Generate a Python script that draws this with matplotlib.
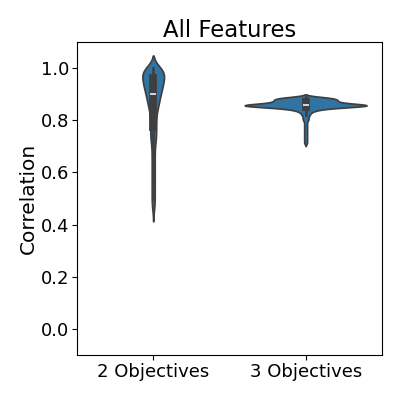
import numpy as np
import pandas as pd
import seaborn as sns
import matplotlib
matplotlib.use('Agg')
import matplotlib.pyplot as plt

categories = ['2 Objectives', '3 Objectives']

# correlation values, with how often each one appears
two_obj_vals = [0.46, 0.47, 0.48, 0.49, 0.50, 0.51, 0.52, 0.53, 0.54, 0.55,
                0.56, 0.57, 0.58, 0.59, 0.60, 0.61, 0.62, 0.63, 0.64, 0.65,
                0.66, 0.67, 0.68, 0.69, 0.70, 0.71, 0.72, 0.73, 0.74, 0.75,
                0.76, 0.77, 0.78, 0.79, 0.80, 0.81, 0.82, 0.83, 0.84, 0.85,
                0.86, 0.87, 0.88, 0.89, 0.90, 0.91, 0.92, 0.93, 0.94, 0.95,
                0.96, 0.97, 0.98, 0.99, 1.00]
two_obj_counts = [1, 1, 1, 1, 1, 1, 1, 1, 1, 1,
                  1, 1, 1, 1, 1, 1, 1, 1, 1, 1,
                  1, 1, 1, 1, 1, 1, 2, 2, 2, 2,
                  2, 2, 2, 2, 2, 2, 2, 2, 3, 3,
                  4, 4, 4, 5, 5, 5, 6, 7, 7, 7,
                  7, 7, 9, 10, 8]

three_obj_vals = [0.710, 0.715, 0.720, 0.725, 0.730, 0.735, 0.740, 0.745, 0.750, 0.755,
                  0.760, 0.765, 0.770, 0.775, 0.780, 0.785, 0.790, 0.795, 0.800, 0.805,
                  0.810, 0.815, 0.820, 0.825, 0.830, 0.835, 0.840, 0.845, 0.850, 0.855,
                  0.860, 0.865, 0.870, 0.875, 0.880, 0.885, 0.890]
three_obj_counts = [1, 1, 1, 1, 1, 1, 1, 1, 1, 1,
                    1, 1, 1, 1, 1, 1, 1, 1, 2, 2,
                    2, 2, 3, 3, 4, 6, 9, 16, 30, 48,
                    44, 26, 22, 22, 22, 20, 8]

two = np.repeat(two_obj_vals, two_obj_counts)
three = np.repeat(three_obj_vals, three_obj_counts)

df = pd.DataFrame({
    'group': [categories[0]] * len(two) + [categories[1]] * len(three),
    'corr': np.concatenate([two, three]),
})

fig = plt.figure(figsize=(3.99, 3.99), dpi=100)
ax = fig.add_axes([0.193, 0.110, 0.764, 0.785])
sns.violinplot(data=df, x='group', y='corr', ax=ax, bw_adjust=0.45, color='C0', saturation=0.75)

ax.set_ylim(-0.1, 1.1)
ax.set_yticks([0.0, 0.2, 0.4, 0.6, 0.8, 1.0])
ax.set_title('All Features', fontsize=16.4, pad=3.5)
ax.set_ylabel('Correlation', fontsize=14.5, labelpad=2.5)
ax.set_xlabel('')
ax.tick_params(labelsize=13, length=3.5, pad=2)

plt.savefig('out.png', dpi=100)
